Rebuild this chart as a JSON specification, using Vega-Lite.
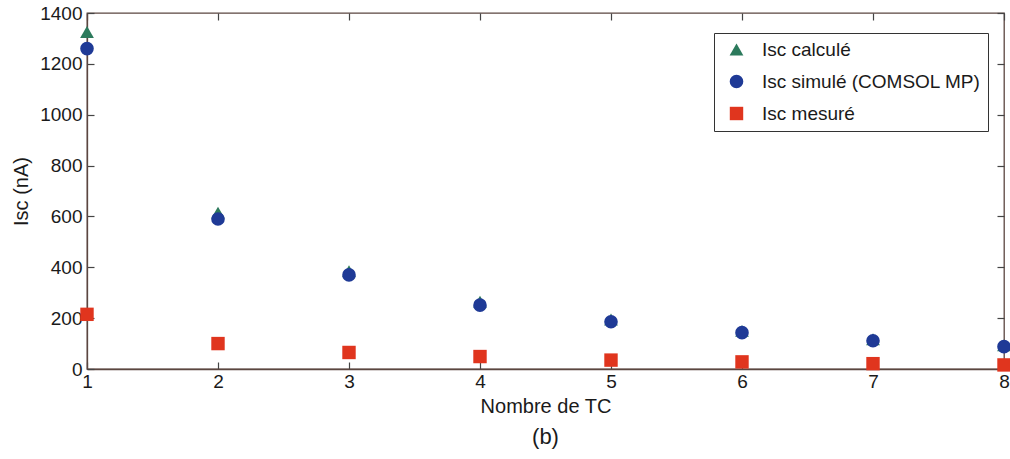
{
  "$schema": "https://vega.github.io/schema/vega-lite/v6.json",
  "autosize": {"type": "none"},
  "width": 917,
  "height": 356,
  "padding": {"left": 87, "top": 13, "right": 6, "bottom": 90},
  "background": "white",
  "config": {
    "font": "Liberation Sans",
    "view": {"stroke": "#5b4640", "strokeWidth": 1.3},
    "axis": {
      "labelFont": "Liberation Sans",
      "labelFontSize": 19,
      "labelColor": "#1a1a1a",
      "titleFont": "Liberation Sans",
      "titleFontSize": 20,
      "titleFontWeight": "normal",
      "titleColor": "#1a1a1a",
      "domainColor": "#5b4640",
      "domainWidth": 1.3,
      "tickColor": "#444444",
      "tickWidth": 1.2,
      "tickSize": -7,
      "grid": false
    }
  },
  "title": {
    "text": "(b)",
    "orient": "bottom",
    "anchor": "middle",
    "font": "Liberation Sans",
    "fontSize": 22,
    "fontWeight": "normal",
    "color": "#1a1a1a",
    "offset": 11
  },
  "data": {
    "values": [
      {"n": 1, "serie": "Isc calculé", "val": 1325},
      {"n": 2, "serie": "Isc calculé", "val": 615},
      {"n": 3, "serie": "Isc calculé", "val": 385},
      {"n": 4, "serie": "Isc calculé", "val": 265},
      {"n": 5, "serie": "Isc calculé", "val": 195},
      {"n": 6, "serie": "Isc calculé", "val": 150},
      {"n": 7, "serie": "Isc calculé", "val": 117},
      {"n": 8, "serie": "Isc calculé", "val": 93},
      {"n": 1, "serie": "Isc simulé (COMSOL MP)", "val": 1260},
      {"n": 2, "serie": "Isc simulé (COMSOL MP)", "val": 590},
      {"n": 3, "serie": "Isc simulé (COMSOL MP)", "val": 370},
      {"n": 4, "serie": "Isc simulé (COMSOL MP)", "val": 251},
      {"n": 5, "serie": "Isc simulé (COMSOL MP)", "val": 186},
      {"n": 6, "serie": "Isc simulé (COMSOL MP)", "val": 143},
      {"n": 7, "serie": "Isc simulé (COMSOL MP)", "val": 111},
      {"n": 8, "serie": "Isc simulé (COMSOL MP)", "val": 88},
      {"n": 1, "serie": "Isc mesuré", "val": 215},
      {"n": 2, "serie": "Isc mesuré", "val": 100},
      {"n": 3, "serie": "Isc mesuré", "val": 65},
      {"n": 4, "serie": "Isc mesuré", "val": 49},
      {"n": 5, "serie": "Isc mesuré", "val": 35},
      {"n": 6, "serie": "Isc mesuré", "val": 28},
      {"n": 7, "serie": "Isc mesuré", "val": 21},
      {"n": 8, "serie": "Isc mesuré", "val": 16}
    ]
  },
  "resolve": {"axis": {"x": "independent", "y": "independent"}},
  "layer": [
    {
      "mark": {"type": "point", "filled": true, "opacity": 0, "size": 1},
      "encoding": {
        "x": {
          "field": "n", "type": "quantitative",
          "scale": {"domain": [1, 8], "nice": false, "zero": false},
          "axis": {"orient": "top", "values": [1, 2, 3, 4, 5, 6, 7, 8], "labels": false, "title": null, "domain": false}
        },
        "y": {
          "field": "val", "type": "quantitative",
          "scale": {"domain": [0, 1400], "nice": false},
          "axis": {"orient": "right", "values": [0, 200, 400, 600, 800, 1000, 1200, 1400], "labels": false, "title": null, "domain": false}
        }
      }
    },
    {
      "mark": {"type": "point", "filled": true, "opacity": 1, "strokeWidth": 0},
      "encoding": {
        "x": {
          "field": "n", "type": "quantitative",
          "scale": {"domain": [1, 8], "nice": false, "zero": false},
          "axis": {"values": [1, 2, 3, 4, 5, 6, 7, 8], "title": "Nombre de TC", "labelPadding": 10, "titlePadding": 5, "labelFlush": false, "format": "d"}
        },
        "y": {
          "field": "val", "type": "quantitative",
          "scale": {"domain": [0, 1400], "nice": false},
          "axis": {"values": [0, 200, 400, 600, 800, 1000, 1200, 1400], "title": "Isc (nA)", "labelPadding": 12, "titlePadding": 8, "labelFlush": false, "format": "d"}
        },
        "color": {
          "field": "serie", "type": "nominal",
          "scale": {
            "domain": ["Isc calculé", "Isc simulé (COMSOL MP)", "Isc mesuré"],
            "range": ["#2c7a5c", "#1f3a96", "#e0351e"]
          },
          "legend": {
            "title": null,
            "orient": "none",
            "legendX": 627,
            "legendY": 20,
            "fillColor": "white",
            "strokeColor": "#333333",
            "padding": 7,
            "labelFont": "Liberation Sans",
            "labelFontSize": 19,
            "labelColor": "#1a1a1a",
            "symbolSize": 120,
            "symbolOffset": 6,
            "rowPadding": 12,
            "labelOffset": 16,
            "labelLimit": 300
          }
        },
        "shape": {
          "field": "serie", "type": "nominal",
          "scale": {
            "domain": ["Isc calculé", "Isc simulé (COMSOL MP)", "Isc mesuré"],
            "range": ["triangle-up", "circle", "square"]
          },
          "legend": null
        },
        "size": {
          "field": "serie", "type": "nominal",
          "scale": {
            "domain": ["Isc calculé", "Isc simulé (COMSOL MP)", "Isc mesuré"],
            "range": [190, 180, 130]
          },
          "legend": null
        },
        "order": {"field": "serie", "type": "nominal"}
      }
    }
  ]
}
